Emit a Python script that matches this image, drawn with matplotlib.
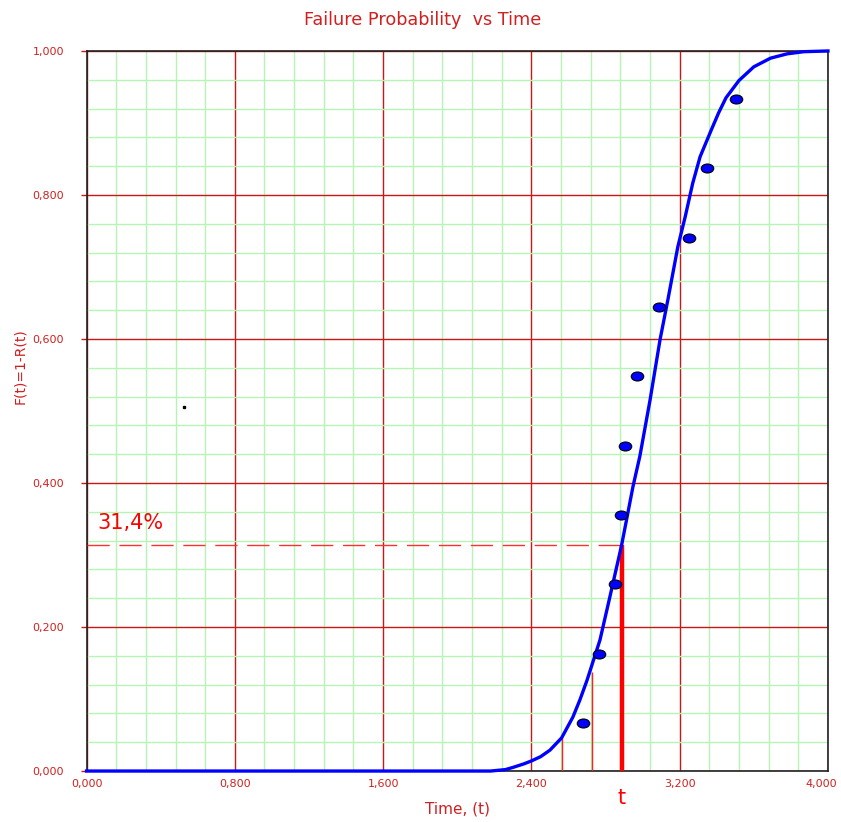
import numpy as np
import matplotlib
matplotlib.use('Agg')
import matplotlib.pyplot as plt
from matplotlib.path import Path
from matplotlib.transforms import Affine2D, ScaledTranslation

# fitted curve
curve_t = [0.0, 2.18, 2.26, 2.30, 2.36, 2.40, 2.45, 2.50, 2.563, 2.624, 2.662, 2.70,
           2.77, 2.82, 2.887, 2.948, 2.985, 3.04, 3.094, 3.136, 3.19, 3.23, 3.27,
           3.31, 3.37, 3.41, 3.45, 3.52, 3.60, 3.69, 3.78, 3.87, 4.0]
curve_f = [0.0, 0.0, 0.002, 0.005, 0.010, 0.014, 0.020, 0.029, 0.046, 0.075, 0.099, 0.126,
           0.182, 0.238, 0.314, 0.395, 0.437, 0.515, 0.599, 0.654, 0.728, 0.77, 0.816,
           0.853, 0.890, 0.914, 0.935, 0.959, 0.978, 0.990, 0.996, 0.999, 1.0]

# failure points (median ranks)
pts_t = [2.676, 2.764, 2.851, 2.881, 2.905, 2.969, 3.088, 3.251, 3.345, 3.502]
pts_f = [0.067, 0.163, 0.260, 0.356, 0.452, 0.548, 0.644, 0.740, 0.837, 0.933]

# marked time and its probability
t_mark = 2.887
f_mark = 0.314
thin_t = [2.563, 2.725]
thin_f = [0.046, 0.137]

stray_t, stray_f = 0.527, 0.506

xticks = [0.0, 0.8, 1.6, 2.4, 3.2, 4.0]
yticks = [0.0, 0.2, 0.4, 0.6, 0.8, 1.0]

fig = plt.figure(figsize=(8.41, 8.22), dpi=100)
ax = fig.add_axes([0.1029, 0.062, 0.8816, 0.876])
ax.set_xlim(0, 4)
ax.set_ylim(0, 1)

ax.set_xticks(xticks)
ax.set_yticks(yticks)
ax.set_xticks(np.arange(0, 4.001, 0.16), minor=True)
ax.set_yticks(np.arange(0, 1.001, 0.04), minor=True)
ax.grid(which='minor', color='#b4f5b4', lw=1.0)
ax.grid(which='major', color='#c81818', lw=1.0)
ax.set_axisbelow(True)

fmt = lambda v: ('%.3f' % v).replace('.', ',')
ax.set_xticklabels([fmt(v) for v in xticks])
ax.set_yticklabels([fmt(v) for v in yticks])
ax.tick_params(which='major', labelcolor='#d02020', labelsize=8)
ax.tick_params(axis='y', which='major', length=4.3, width=1, color='#c81818', pad=12)
ax.tick_params(axis='x', which='major', length=0, pad=6)
ax.tick_params(which='minor', length=0)
lab = ax.get_xticklabels()[-1]
lab.set_transform(lab.get_transform() + ScaledTranslation(-5 / 72, 0, fig.dpi_scale_trans))
for s in ax.spines.values():
    s.set_color('#202020')
    s.set_linewidth(1.2)

# curve
ax.plot(curve_t, curve_f, color='#0000ff', lw=2.4, zorder=4, clip_on=False)

# marked lines
ax.plot([0, t_mark], [f_mark, f_mark], color='#ff3030', lw=1.0,
        dashes=(16, 7), zorder=3)
ax.vlines(t_mark, 0, f_mark, color='red', lw=3.2, zorder=3)
ax.vlines(thin_t, 0, thin_f, color='#ff2020', lw=1.0, zorder=3)

# data points as flattened ellipses
ell = Path.unit_circle().transformed(Affine2D().scale(1.0, 0.72))
ax.plot(pts_t, pts_f, ls='none', marker=ell, ms=9, mfc='#0000ff',
        mec='black', mew=0.8, zorder=5)

ax.plot(stray_t, stray_f, ls='none', marker='s', ms=2, color='black')

ax.text(0.06, f_mark + 0.022, '31,4%', color='red', fontsize=15)
ax.text(t_mark, -0.037, 't', color='red', fontsize=15, ha='center', va='center')

ax.set_xlabel('Time, (t)', color='#d02020', fontsize=11, labelpad=9)
fig.text(20 / 841, 1 - 366 / 822, 'F(t)=1-R(t)', color='#d02020', fontsize=10,
         rotation=90, ha='center', va='center')
fig.text(0.502, 0.976, 'Failure Probability  vs Time', color='#d02020',
         fontsize=12.7, ha='center', va='center')

fig.savefig('out.png', dpi=100)
